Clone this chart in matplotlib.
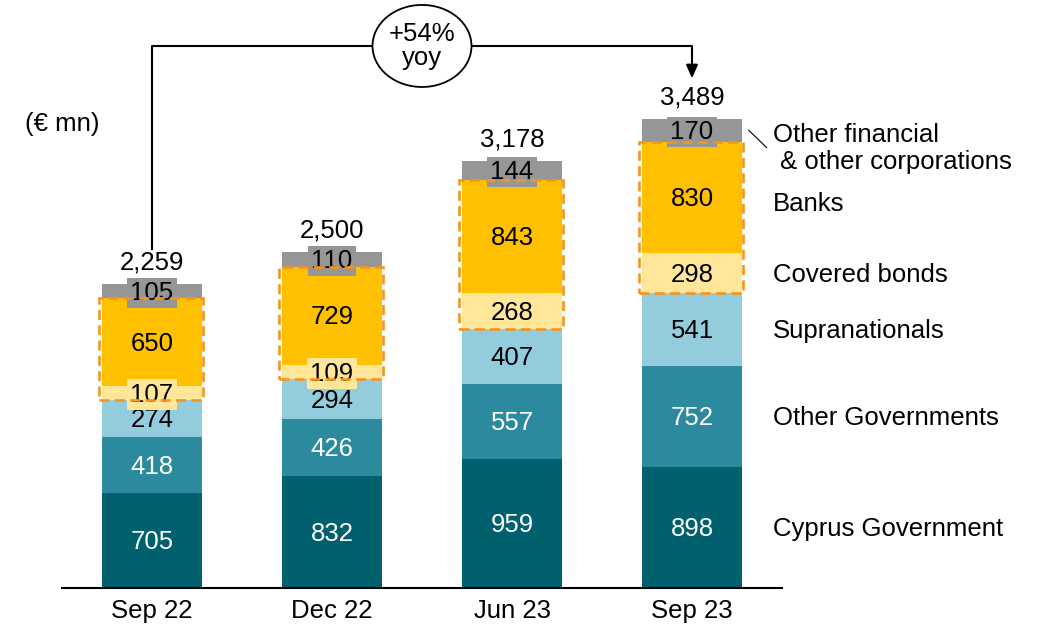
import matplotlib
matplotlib.use("Agg")
import matplotlib.pyplot as plt
from matplotlib.patches import Rectangle, Ellipse
import numpy as np

plt.rcParams['font.family'] = ['Liberation Sans', 'DejaVu Sans']

periods = ["Sep 22", "Dec 22", "Jun 23", "Sep 23"]
segments = ["Cyprus Government", "Other Governments", "Supranationals",
            "Covered bonds", "Banks", "Other financial\n & other corporations"]
cyprus_gov = [705, 832, 959, 898]
other_gov = [418, 426, 557, 752]
supranationals = [274, 294, 407, 541]
covered_bonds = [107, 109, 268, 298]
banks = [650, 729, 843, 830]
other_fin = [105, 110, 144, 170]
totals = [2259, 2500, 3178, 3489]
growth_label = "+54%\nyoy"

colors = ["#00606E", "#2C8A9E", "#93CDDD", "#FFE699", "#FFC000", "#969696"]
text_colors = ["white", "white", "black", "black", "black", "black"]
box_color = "#F7941D"

FS = 18.5


def main():
    fig = plt.figure(figsize=(10.4, 6.26), dpi=100)
    ax = fig.add_axes([62 / 1040, 38 / 626, 720 / 1040, 538 / 626])

    x = np.arange(len(periods))
    width = 0.56
    series = [cyprus_gov, other_gov, supranationals, covered_bonds, banks, other_fin]
    bottom = np.zeros(len(periods))
    bottoms = []
    for vals, col, tcol in zip(series, colors, text_colors):
        vals = np.array(vals, dtype=float)
        ax.bar(x, vals, width, bottom=bottom, color=col, lw=0, zorder=2)
        for xi, b, v in zip(x, bottom, vals):
            ax.text(xi, b + v / 2 - 12, f"{int(v)}", ha="center", va="center",
                    fontsize=FS, color=tcol, zorder=3,
                    bbox=dict(boxstyle="square,pad=0.12", fc=col, ec="none"))
        bottoms.append(bottom.copy())
        bottom = bottom + vals

    # dashed box around covered bonds + banks
    for xi in x:
        y0 = bottoms[3][xi]
        h = covered_bonds[xi] + banks[xi]
        ax.add_patch(Rectangle((xi - width / 2 - 0.015, y0), width + 0.02, h,
                               fill=False, ec=box_color, lw=1.9,
                               ls=(0, (3.8, 2)), zorder=4))

    # totals
    for xi, t in zip(x, totals):
        ax.text(xi, t + 160, f"{t:,}", ha="center", va="center", fontsize=FS)

    # segment labels on the right (aligned to last bar)
    lx = 3.45
    last = len(periods) - 1
    for i, name in enumerate(segments[:-1]):
        yc = bottoms[i][last] + series[i][last] / 2
        if i == 4:
            yc -= 35
        ax.text(lx, yc - 12, name, ha="left", va="center", fontsize=FS, clip_on=False)
    ax.text(lx, totals[last] - 30, segments[-1], ha="left", va="top",
            fontsize=FS, linespacing=1.17, clip_on=False)
    yc = bottoms[5][last] + other_fin[last] / 2
    ax.plot([last + width / 2 + 0.035, last + width / 2 + 0.135], [yc, yc - 130],
            color="black", lw=0.8, clip_on=False)

    # growth bracket
    ytop = 4030
    ax.plot([0, 0, last, last], [totals[0] + 265, ytop, ytop, totals[last] + 420],
            color="black", lw=1.5, clip_on=False, zorder=5)
    ax.annotate("", xy=(last, totals[last] + 300), xytext=(last, totals[last] + 430),
                arrowprops=dict(arrowstyle="-|>,head_length=0.8,head_width=0.35",
                                color="black", lw=1.5, shrinkA=0, shrinkB=0),
                annotation_clip=False)
    ax.add_patch(Ellipse((1.5, ytop), 0.55, 610, fc="white", ec="black",
                         lw=1.3, clip_on=False, zorder=6))
    ax.text(1.5, ytop, growth_label, ha="center", va="center", fontsize=FS,
            linespacing=1.0, zorder=7)

    fig.text(25 / 1040, 1 - 124 / 626, "(€ mn)", ha="left", va="center", fontsize=FS)

    ax.set_xlim(-0.5, 3.5)
    ax.set_ylim(0, 4000)
    ax.set_xticks(x)
    ax.set_xticklabels(periods, fontsize=FS)
    ax.tick_params(axis="x", length=0, pad=8)
    ax.set_yticks([])
    for s in ["left", "right", "top"]:
        ax.spines[s].set_visible(False)
    ax.spines["bottom"].set_linewidth(1.5)
    ax.spines["bottom"].set_zorder(5)

    fig.savefig("out.png", dpi=100)


if __name__ == "__main__":
    main()
